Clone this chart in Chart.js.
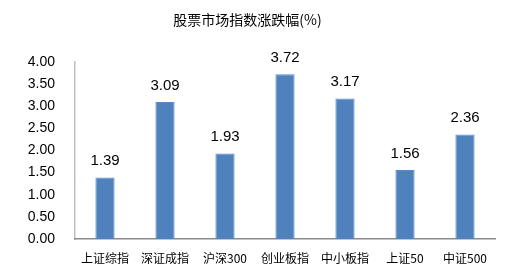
<!DOCTYPE html>
<html>
<head>
<meta charset="utf-8">
<script src="https://cdn.jsdelivr.net/npm/chart.js@4/dist/chart.umd.min.js"></script>
<style>
  html, body { margin: 0; padding: 0; background: #fff; }
  #wrap { width: 505px; height: 279px; }
</style>
</head>
<body>
<div id="wrap"><canvas id="myChart" width="505" height="279"></canvas></div>
<script>
var categories = ['上证综指', '深证成指', '沪深300', '创业板指', '中小板指', '上证50', '中证500'];
var changes = [1.39, 3.09, 1.93, 3.72, 3.17, 1.56, 2.36];
var yTicks = [0, 0.5, 1, 1.5, 2, 2.5, 3, 3.5, 4];

// values above each bar
var barLabels = {
    id: 'barLabels',
    afterDatasetsDraw: function (chart) {
        var c = chart.ctx;
        var meta = chart.getDatasetMeta(0);
        c.save();
        c.fillStyle = '#000';
        c.font = '15px "Liberation Sans", Arial, sans-serif';
        c.textAlign = 'center';
        c.textBaseline = 'bottom';
        meta.data.forEach(function (bar, i) {
            c.fillText(changes[i].toFixed(2), bar.x, bar.y - 9);
        });
        c.restore();
    }
};

window.onload = function () {
    const ctx = document.getElementById('myChart');
    const myChart = new Chart(ctx, {
        type: 'bar',
        data: {
            labels: categories,
            datasets: [{
                label: '涨跌幅',
                data: changes,
                backgroundColor: '#4F81BD',
                borderColor: '#5B8CC6',
                borderWidth: 1,
                barPercentage: 1,
                categoryPercentage: 0.32
            }]
        },
        options: {
            responsive: false,
            animation: false,
            layout: { padding: { left: 0, right: 10, top: 0, bottom: 0 } },
            scales: {
                y: {
                    min: 0,
                    max: 4,
                    afterBuildTicks: function (scale) {
                        scale.ticks = yTicks.map(function (v) { return { value: v }; });
                    },
                    afterFit: function (scale) { scale.width = 75; },
                    grid: { display: false, drawTicks: false },
                    border: { color: '#BFBFBF', width: 1.5 },
                    ticks: {
                        color: '#000',
                        padding: 20,
                        font: { family: '"Liberation Sans", Arial, sans-serif', size: 14 },
                        callback: function (v) { return v.toFixed(2); }
                    }
                },
                x: {
                    afterFit: function (scale) { scale.height = 40; },
                    grid: { display: false, drawTicks: false },
                    border: { color: '#8C8C8C', width: 1.5 },
                    ticks: {
                        color: '#000',
                        padding: 12,
                        maxRotation: 0,
                        autoSkip: false,
                        font: { family: '"Noto Sans CJK SC", sans-serif', size: 12 }
                    }
                }
            },
            plugins: {
                legend: { display: false },
                tooltip: { enabled: false },
                title: {
                    display: true,
                    text: '股票市场指数涨跌幅(%)',
                    color: '#000',
                    font: { family: '"Noto Sans CJK SC", sans-serif', size: 14, weight: 'normal' },
                    padding: { top: 11, bottom: 34 }
                }
            }
        },
        plugins: [barLabels]
    });
};
</script>
</body>
</html>
